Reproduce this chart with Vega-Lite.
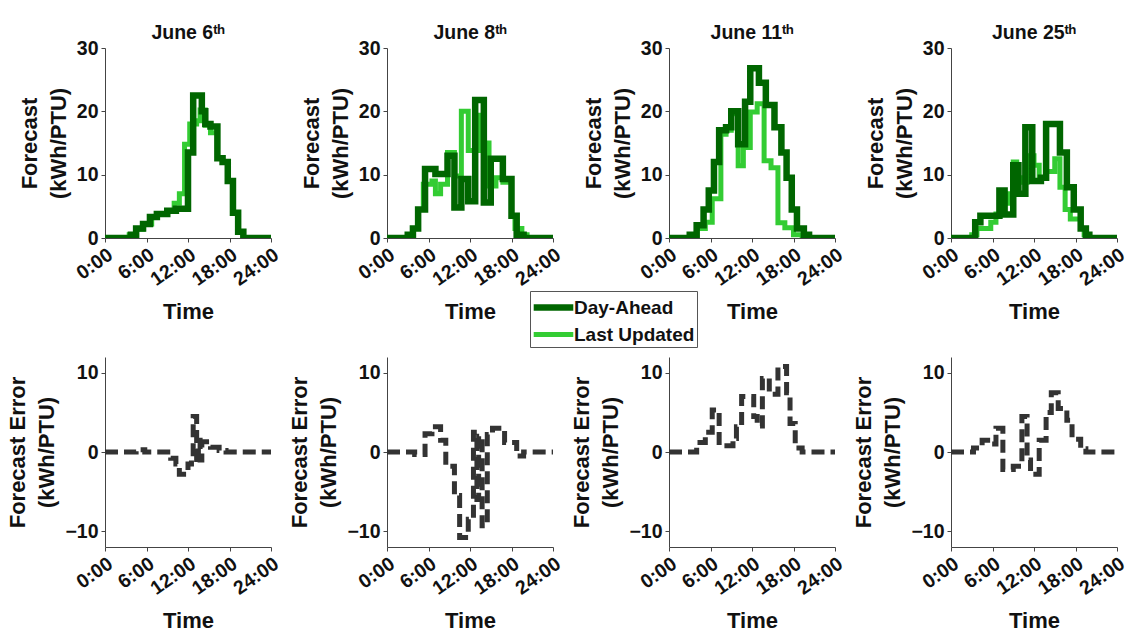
{
"$schema": "https://vega.github.io/schema/vega-lite/v6.json",
"background": "white",
"padding": {"left": 6, "top": 22, "right": 2, "bottom": 2},
"datasets": {
"fc": [
{"d":6,"s":"Last Updated","t":0,"v":0},{"d":6,"s":"Last Updated","t":3.5,"v":0.5},{"d":6,"s":"Last Updated","t":4.5,"v":1.4},{"d":6,"s":"Last Updated","t":5.5,"v":2.2},{"d":6,"s":"Last Updated","t":6.75,"v":3.3},{"d":6,"s":"Last Updated","t":7.5,"v":3.8},{"d":6,"s":"Last Updated","t":9,"v":4.3},{"d":6,"s":"Last Updated","t":10,"v":5.5},{"d":6,"s":"Last Updated","t":10.75,"v":7},{"d":6,"s":"Last Updated","t":11.5,"v":14.8},{"d":6,"s":"Last Updated","t":12.25,"v":18},{"d":6,"s":"Last Updated","t":13.25,"v":18.5},{"d":6,"s":"Last Updated","t":13.75,"v":20.2},{"d":6,"s":"Last Updated","t":14.5,"v":17.8},{"d":6,"s":"Last Updated","t":15.25,"v":16.6},{"d":6,"s":"Last Updated","t":16.25,"v":12.6},{"d":6,"s":"Last Updated","t":17,"v":12},{"d":6,"s":"Last Updated","t":17.75,"v":9},{"d":6,"s":"Last Updated","t":18.5,"v":4},{"d":6,"s":"Last Updated","t":19.25,"v":1},{"d":6,"s":"Last Updated","t":20,"v":0},{"d":6,"s":"Last Updated","t":24,"v":0},
{"d":6,"s":"Day-Ahead","t":0,"v":0},{"d":6,"s":"Day-Ahead","t":3.75,"v":0.5},{"d":6,"s":"Day-Ahead","t":4.5,"v":1.5},{"d":6,"s":"Day-Ahead","t":5.5,"v":2.2},{"d":6,"s":"Day-Ahead","t":6.5,"v":3.3},{"d":6,"s":"Day-Ahead","t":7.5,"v":3.8},{"d":6,"s":"Day-Ahead","t":9,"v":4.3},{"d":6,"s":"Day-Ahead","t":10.25,"v":4.6},{"d":6,"s":"Day-Ahead","t":12,"v":13.5},{"d":6,"s":"Day-Ahead","t":12.75,"v":22.5},{"d":6,"s":"Day-Ahead","t":14,"v":20},{"d":6,"s":"Day-Ahead","t":14.5,"v":18},{"d":6,"s":"Day-Ahead","t":15.25,"v":17.6},{"d":6,"s":"Day-Ahead","t":16.25,"v":12.6},{"d":6,"s":"Day-Ahead","t":17,"v":12},{"d":6,"s":"Day-Ahead","t":17.75,"v":9},{"d":6,"s":"Day-Ahead","t":18.5,"v":4},{"d":6,"s":"Day-Ahead","t":19.25,"v":1},{"d":6,"s":"Day-Ahead","t":20,"v":0},{"d":6,"s":"Day-Ahead","t":24,"v":0},
{"d":8,"s":"Last Updated","t":0,"v":0},{"d":8,"s":"Last Updated","t":3,"v":0.5},{"d":8,"s":"Last Updated","t":3.75,"v":1.5},{"d":8,"s":"Last Updated","t":4.5,"v":4.5},{"d":8,"s":"Last Updated","t":5.25,"v":8.5},{"d":8,"s":"Last Updated","t":6.5,"v":9},{"d":8,"s":"Last Updated","t":7,"v":7},{"d":8,"s":"Last Updated","t":7.75,"v":8.5},{"d":8,"s":"Last Updated","t":8.75,"v":13.5},{"d":8,"s":"Last Updated","t":9.75,"v":9.8},{"d":8,"s":"Last Updated","t":10.75,"v":20},{"d":8,"s":"Last Updated","t":11.75,"v":13.8},{"d":8,"s":"Last Updated","t":13.25,"v":19.4},{"d":8,"s":"Last Updated","t":14,"v":15},{"d":8,"s":"Last Updated","t":14.75,"v":8.2},{"d":8,"s":"Last Updated","t":15.75,"v":9.5},{"d":8,"s":"Last Updated","t":16.75,"v":8.8},{"d":8,"s":"Last Updated","t":18,"v":3.5},{"d":8,"s":"Last Updated","t":18.5,"v":1.5},{"d":8,"s":"Last Updated","t":19.5,"v":0.5},{"d":8,"s":"Last Updated","t":20.25,"v":0},{"d":8,"s":"Last Updated","t":24,"v":0},
{"d":8,"s":"Day-Ahead","t":0,"v":0},{"d":8,"s":"Day-Ahead","t":3,"v":0.5},{"d":8,"s":"Day-Ahead","t":3.75,"v":1.5},{"d":8,"s":"Day-Ahead","t":4.5,"v":4.5},{"d":8,"s":"Day-Ahead","t":5.5,"v":10.9},{"d":8,"s":"Day-Ahead","t":7,"v":10.1},{"d":8,"s":"Day-Ahead","t":8.75,"v":13},{"d":8,"s":"Day-Ahead","t":9.75,"v":4.8},{"d":8,"s":"Day-Ahead","t":10.75,"v":9.3},{"d":8,"s":"Day-Ahead","t":11.75,"v":5.8},{"d":8,"s":"Day-Ahead","t":12.75,"v":21.8},{"d":8,"s":"Day-Ahead","t":14,"v":5.6},{"d":8,"s":"Day-Ahead","t":15,"v":12.5},{"d":8,"s":"Day-Ahead","t":16.75,"v":9.3},{"d":8,"s":"Day-Ahead","t":18,"v":3.5},{"d":8,"s":"Day-Ahead","t":18.75,"v":0.5},{"d":8,"s":"Day-Ahead","t":19.75,"v":0},{"d":8,"s":"Day-Ahead","t":24,"v":0},
{"d":11,"s":"Last Updated","t":0,"v":0},{"d":11,"s":"Last Updated","t":3,"v":0.5},{"d":11,"s":"Last Updated","t":4,"v":1.5},{"d":11,"s":"Last Updated","t":5.25,"v":2.5},{"d":11,"s":"Last Updated","t":6.25,"v":6.2},{"d":11,"s":"Last Updated","t":7.5,"v":16.4},{"d":11,"s":"Last Updated","t":8.25,"v":17},{"d":11,"s":"Last Updated","t":9,"v":19.6},{"d":11,"s":"Last Updated","t":10,"v":11.4},{"d":11,"s":"Last Updated","t":10.75,"v":14.3},{"d":11,"s":"Last Updated","t":11.75,"v":19.9},{"d":11,"s":"Last Updated","t":12.75,"v":21.2},{"d":11,"s":"Last Updated","t":13.75,"v":12.2},{"d":11,"s":"Last Updated","t":14.75,"v":11.1},{"d":11,"s":"Last Updated","t":15.75,"v":2.4},{"d":11,"s":"Last Updated","t":16.75,"v":1.6},{"d":11,"s":"Last Updated","t":18,"v":0.5},{"d":11,"s":"Last Updated","t":19.25,"v":0},{"d":11,"s":"Last Updated","t":24,"v":0},
{"d":11,"s":"Day-Ahead","t":0,"v":0},{"d":11,"s":"Day-Ahead","t":3,"v":0.5},{"d":11,"s":"Day-Ahead","t":4,"v":2},{"d":11,"s":"Day-Ahead","t":5,"v":4.5},{"d":11,"s":"Day-Ahead","t":5.75,"v":7.5},{"d":11,"s":"Day-Ahead","t":6.5,"v":12},{"d":11,"s":"Day-Ahead","t":7.25,"v":17},{"d":11,"s":"Day-Ahead","t":8.25,"v":17.5},{"d":11,"s":"Day-Ahead","t":9,"v":20},{"d":11,"s":"Day-Ahead","t":10,"v":14.8},{"d":11,"s":"Day-Ahead","t":11,"v":21.5},{"d":11,"s":"Day-Ahead","t":11.75,"v":26.8},{"d":11,"s":"Day-Ahead","t":13,"v":24.5},{"d":11,"s":"Day-Ahead","t":14,"v":21},{"d":11,"s":"Day-Ahead","t":15.25,"v":17.5},{"d":11,"s":"Day-Ahead","t":16.25,"v":13.5},{"d":11,"s":"Day-Ahead","t":17,"v":9.5},{"d":11,"s":"Day-Ahead","t":17.75,"v":4.5},{"d":11,"s":"Day-Ahead","t":18.5,"v":1.5},{"d":11,"s":"Day-Ahead","t":19.5,"v":0.5},{"d":11,"s":"Day-Ahead","t":20.25,"v":0},{"d":11,"s":"Day-Ahead","t":24,"v":0},
{"d":25,"s":"Last Updated","t":0,"v":0},{"d":25,"s":"Last Updated","t":3,"v":0.5},{"d":25,"s":"Last Updated","t":3.75,"v":1.5},{"d":25,"s":"Last Updated","t":5.75,"v":2.5},{"d":25,"s":"Last Updated","t":6.5,"v":3.8},{"d":25,"s":"Last Updated","t":7.5,"v":5.5},{"d":25,"s":"Last Updated","t":8.25,"v":7},{"d":25,"s":"Last Updated","t":9,"v":12},{"d":25,"s":"Last Updated","t":9.5,"v":9.5},{"d":25,"s":"Last Updated","t":10.25,"v":8.8},{"d":25,"s":"Last Updated","t":11,"v":13},{"d":25,"s":"Last Updated","t":12,"v":11.5},{"d":25,"s":"Last Updated","t":12.75,"v":9.5},{"d":25,"s":"Last Updated","t":13.75,"v":10.5},{"d":25,"s":"Last Updated","t":15,"v":12.5},{"d":25,"s":"Last Updated","t":15.75,"v":8},{"d":25,"s":"Last Updated","t":16.5,"v":4.5},{"d":25,"s":"Last Updated","t":17.25,"v":3},{"d":25,"s":"Last Updated","t":18.75,"v":1.5},{"d":25,"s":"Last Updated","t":19.25,"v":0.5},{"d":25,"s":"Last Updated","t":20,"v":0},{"d":25,"s":"Last Updated","t":24,"v":0},
{"d":25,"s":"Day-Ahead","t":0,"v":0},{"d":25,"s":"Day-Ahead","t":3.5,"v":2.5},{"d":25,"s":"Day-Ahead","t":4.25,"v":3.5},{"d":25,"s":"Day-Ahead","t":7,"v":7.5},{"d":25,"s":"Day-Ahead","t":7.75,"v":3.7},{"d":25,"s":"Day-Ahead","t":9,"v":11.5},{"d":25,"s":"Day-Ahead","t":9.75,"v":7},{"d":25,"s":"Day-Ahead","t":10.75,"v":17.5},{"d":25,"s":"Day-Ahead","t":11.75,"v":9},{"d":25,"s":"Day-Ahead","t":13,"v":9.5},{"d":25,"s":"Day-Ahead","t":13.75,"v":18},{"d":25,"s":"Day-Ahead","t":15.75,"v":13.5},{"d":25,"s":"Day-Ahead","t":16.75,"v":8},{"d":25,"s":"Day-Ahead","t":17.75,"v":4.5},{"d":25,"s":"Day-Ahead","t":18.75,"v":1.5},{"d":25,"s":"Day-Ahead","t":19.5,"v":0.5},{"d":25,"s":"Day-Ahead","t":20,"v":0},{"d":25,"s":"Day-Ahead","t":24,"v":0}
],
"err": [
{"d":6,"t":0,"v":0},{"d":6,"t":4.5,"v":0.3},{"d":6,"t":5.75,"v":0},{"d":6,"t":9.5,"v":-0.8},{"d":6,"t":10.25,"v":-1.5},{"d":6,"t":10.75,"v":-2.8},{"d":6,"t":12,"v":-1.5},{"d":6,"t":12.5,"v":-0.8},{"d":6,"t":12.75,"v":4.5},{"d":6,"t":13.25,"v":-1.5},{"d":6,"t":13.5,"v":1.5},{"d":6,"t":13.75,"v":-1},{"d":6,"t":14,"v":1.3},{"d":6,"t":15.25,"v":0.6},{"d":6,"t":16.5,"v":0.2},{"d":6,"t":17.5,"v":0},{"d":6,"t":24,"v":0},
{"d":8,"t":0,"v":0},{"d":8,"t":4,"v":-0.3},{"d":8,"t":5.5,"v":2.3},{"d":8,"t":6.5,"v":3.2},{"d":8,"t":7.75,"v":1.5},{"d":8,"t":8.5,"v":-1.8},{"d":8,"t":9.75,"v":-5.5},{"d":8,"t":10.5,"v":-10.8},{"d":8,"t":11.75,"v":-8.5},{"d":8,"t":12.5,"v":2.5},{"d":8,"t":13,"v":-6},{"d":8,"t":13.25,"v":2},{"d":8,"t":13.75,"v":-9.3},{"d":8,"t":14.5,"v":2.2},{"d":8,"t":15.25,"v":3},{"d":8,"t":17,"v":1.2},{"d":8,"t":18.75,"v":-0.5},{"d":8,"t":19.75,"v":0},{"d":8,"t":24,"v":0},
{"d":11,"t":0,"v":0},{"d":11,"t":4,"v":1.2},{"d":11,"t":5.25,"v":2.5},{"d":11,"t":6.25,"v":5.3},{"d":11,"t":7.25,"v":0.8},{"d":11,"t":9.25,"v":1.7},{"d":11,"t":9.75,"v":3.2},{"d":11,"t":10.5,"v":7},{"d":11,"t":12.25,"v":4.5},{"d":11,"t":12.75,"v":3.3},{"d":11,"t":13.5,"v":9.3},{"d":11,"t":14.5,"v":7.3},{"d":11,"t":15.75,"v":10.8},{"d":11,"t":17,"v":7.5},{"d":11,"t":17.5,"v":3.6},{"d":11,"t":18.25,"v":0.5},{"d":11,"t":19.25,"v":0},{"d":11,"t":24,"v":0},
{"d":25,"t":0,"v":0},{"d":25,"t":3.25,"v":0.5},{"d":25,"t":4.5,"v":1.5},{"d":25,"t":5.75,"v":1},{"d":25,"t":6.5,"v":3},{"d":25,"t":7.5,"v":-2.2},{"d":25,"t":9,"v":-1.8},{"d":25,"t":10.25,"v":4.5},{"d":25,"t":11,"v":-1},{"d":25,"t":11.5,"v":-2.8},{"d":25,"t":12.75,"v":1.5},{"d":25,"t":13.75,"v":5},{"d":25,"t":14.5,"v":7.5},{"d":25,"t":15.5,"v":5.5},{"d":25,"t":16.75,"v":4},{"d":25,"t":17.5,"v":1.6},{"d":25,"t":18.75,"v":0.4},{"d":25,"t":19.5,"v":0},{"d":25,"t":24,"v":0}
]
},
"columns": 4,
"spacing": {"row": 119, "column": 116},
"bounds": "flush",
"resolve": {"scale": {"color": "shared", "strokeWidth": "shared"}, "legend": {"color": "shared"}},
"concat": [
{"data": {"name": "fc"}, "transform": [{"filter": "datum.d == 6"}], "title": "June 6ᵗʰ", "width": 166, "height": 190,
"mark": {"type": "line", "interpolate": "step-after", "clip": true},
"encoding": {
"x": {"field": "t", "type": "quantitative", "scale": {"domain": [0, 24], "nice": false}, "axis": {"values": [0, 6, 12, 18, 24], "labelExpr": "datum.value + ':00'", "title": "Time"}},
"y": {"field": "v", "type": "quantitative", "scale": {"domain": [0, 30], "nice": false}, "axis": {"values": [0, 10, 20, 30], "title": ["Forecast", "(kWh/PTU)"]}},
"strokeWidth": {"field": "s", "type": "nominal", "scale": {"domain": ["Day-Ahead", "Last Updated"], "range": [6.5, 5]}, "legend": null},
"color": {"field": "s", "type": "nominal", "scale": {"domain": ["Day-Ahead", "Last Updated"], "range": ["#006600", "#33cc33"]}, "legend": {"orient": "none", "legendX": 425, "legendY": 243, "title": null}}}},
{"data": {"name": "fc"}, "transform": [{"filter": "datum.d == 8"}], "title": "June 8ᵗʰ", "width": 166, "height": 190,
"mark": {"type": "line", "interpolate": "step-after", "clip": true},
"encoding": {
"x": {"field": "t", "type": "quantitative", "scale": {"domain": [0, 24], "nice": false}, "axis": {"values": [0, 6, 12, 18, 24], "labelExpr": "datum.value + ':00'", "title": "Time"}},
"y": {"field": "v", "type": "quantitative", "scale": {"domain": [0, 30], "nice": false}, "axis": {"values": [0, 10, 20, 30], "title": ["Forecast", "(kWh/PTU)"]}},
"strokeWidth": {"field": "s", "type": "nominal", "scale": {"domain": ["Day-Ahead", "Last Updated"], "range": [6.5, 5]}, "legend": null},
"color": {"field": "s", "type": "nominal", "scale": {"domain": ["Day-Ahead", "Last Updated"], "range": ["#006600", "#33cc33"]}, "legend": {"orient": "none", "legendX": 425, "legendY": 243, "title": null}}}},
{"data": {"name": "fc"}, "transform": [{"filter": "datum.d == 11"}], "title": "June 11ᵗʰ", "width": 166, "height": 190,
"mark": {"type": "line", "interpolate": "step-after", "clip": true},
"encoding": {
"x": {"field": "t", "type": "quantitative", "scale": {"domain": [0, 24], "nice": false}, "axis": {"values": [0, 6, 12, 18, 24], "labelExpr": "datum.value + ':00'", "title": "Time"}},
"y": {"field": "v", "type": "quantitative", "scale": {"domain": [0, 30], "nice": false}, "axis": {"values": [0, 10, 20, 30], "title": ["Forecast", "(kWh/PTU)"]}},
"strokeWidth": {"field": "s", "type": "nominal", "scale": {"domain": ["Day-Ahead", "Last Updated"], "range": [6.5, 5]}, "legend": null},
"color": {"field": "s", "type": "nominal", "scale": {"domain": ["Day-Ahead", "Last Updated"], "range": ["#006600", "#33cc33"]}, "legend": {"orient": "none", "legendX": 425, "legendY": 243, "title": null}}}},
{"data": {"name": "fc"}, "transform": [{"filter": "datum.d == 25"}], "title": "June 25ᵗʰ", "width": 166, "height": 190,
"mark": {"type": "line", "interpolate": "step-after", "clip": true},
"encoding": {
"x": {"field": "t", "type": "quantitative", "scale": {"domain": [0, 24], "nice": false}, "axis": {"values": [0, 6, 12, 18, 24], "labelExpr": "datum.value + ':00'", "title": "Time"}},
"y": {"field": "v", "type": "quantitative", "scale": {"domain": [0, 30], "nice": false}, "axis": {"values": [0, 10, 20, 30], "title": ["Forecast", "(kWh/PTU)"]}},
"strokeWidth": {"field": "s", "type": "nominal", "scale": {"domain": ["Day-Ahead", "Last Updated"], "range": [6.5, 5]}, "legend": null},
"color": {"field": "s", "type": "nominal", "scale": {"domain": ["Day-Ahead", "Last Updated"], "range": ["#006600", "#33cc33"]}, "legend": {"orient": "none", "legendX": 425, "legendY": 243, "title": null}}}},
{"data": {"name": "err"}, "transform": [{"filter": "datum.d == 6"}], "width": 166, "height": 190,
"mark": {"type": "line", "interpolate": "step-after", "strokeWidth": 5, "color": "#333333", "strokeDash": [13, 6], "clip": true},
"encoding": {
"x": {"field": "t", "type": "quantitative", "scale": {"domain": [0, 24], "nice": false}, "axis": {"values": [0, 6, 12, 18, 24], "labelExpr": "datum.value + ':00'", "title": "Time"}},
"y": {"field": "v", "type": "quantitative", "scale": {"domain": [-12, 12], "nice": false}, "axis": {"values": [-10, 0, 10], "title": ["Forecast Error", "(kWh/PTU)"]}}}},
{"data": {"name": "err"}, "transform": [{"filter": "datum.d == 8"}], "width": 166, "height": 190,
"mark": {"type": "line", "interpolate": "step-after", "strokeWidth": 5, "color": "#333333", "strokeDash": [13, 6], "clip": true},
"encoding": {
"x": {"field": "t", "type": "quantitative", "scale": {"domain": [0, 24], "nice": false}, "axis": {"values": [0, 6, 12, 18, 24], "labelExpr": "datum.value + ':00'", "title": "Time"}},
"y": {"field": "v", "type": "quantitative", "scale": {"domain": [-12, 12], "nice": false}, "axis": {"values": [-10, 0, 10], "title": ["Forecast Error", "(kWh/PTU)"]}}}},
{"data": {"name": "err"}, "transform": [{"filter": "datum.d == 11"}], "width": 166, "height": 190,
"mark": {"type": "line", "interpolate": "step-after", "strokeWidth": 5, "color": "#333333", "strokeDash": [13, 6], "clip": true},
"encoding": {
"x": {"field": "t", "type": "quantitative", "scale": {"domain": [0, 24], "nice": false}, "axis": {"values": [0, 6, 12, 18, 24], "labelExpr": "datum.value + ':00'", "title": "Time"}},
"y": {"field": "v", "type": "quantitative", "scale": {"domain": [-12, 12], "nice": false}, "axis": {"values": [-10, 0, 10], "title": ["Forecast Error", "(kWh/PTU)"]}}}},
{"data": {"name": "err"}, "transform": [{"filter": "datum.d == 25"}], "width": 166, "height": 190,
"mark": {"type": "line", "interpolate": "step-after", "strokeWidth": 5, "color": "#333333", "strokeDash": [13, 6], "clip": true},
"encoding": {
"x": {"field": "t", "type": "quantitative", "scale": {"domain": [0, 24], "nice": false}, "axis": {"values": [0, 6, 12, 18, 24], "labelExpr": "datum.value + ':00'", "title": "Time"}},
"y": {"field": "v", "type": "quantitative", "scale": {"domain": [-12, 12], "nice": false}, "axis": {"values": [-10, 0, 10], "title": ["Forecast Error", "(kWh/PTU)"]}}}}
],
"config": {
"view": {"stroke": null},
"font": "Liberation Sans",
"title": {"font": "Liberation Sans", "fontSize": 19.5, "fontWeight": "bold", "color": "#111111", "offset": -5, "anchor": "middle"},
"axis": {"grid": false, "domainColor": "#444444", "domainWidth": 1, "tickColor": "#444444", "tickSize": 4, "labelFont": "Liberation Sans", "labelFontWeight": "bold", "labelFontSize": 19.5, "labelColor": "#111111", "labelPadding": 3, "labelOverlap": false, "titleFont": "Liberation Sans", "titleFontWeight": "bold", "titleFontSize": 22, "titleColor": "#111111", "titlePadding": 6, "titleLineHeight": 29},
"axisX": {"labelAngle": -35, "labelAlign": "right", "labelBaseline": "top", "titlePadding": 13},
"legend": {"symbolType": "M-1.8,0H1.8", "symbolStrokeWidth": 6, "symbolSize": 484, "symbolOffset": 7, "symbolFillColor": "transparent", "labelFont": "Liberation Sans", "labelFontSize": 19, "labelFontWeight": "bold", "labelColor": "#111111", "strokeColor": "#555555", "fillColor": "white", "padding": 2, "rowPadding": 0, "labelOffset": 6, "offset": 0}
}
}
